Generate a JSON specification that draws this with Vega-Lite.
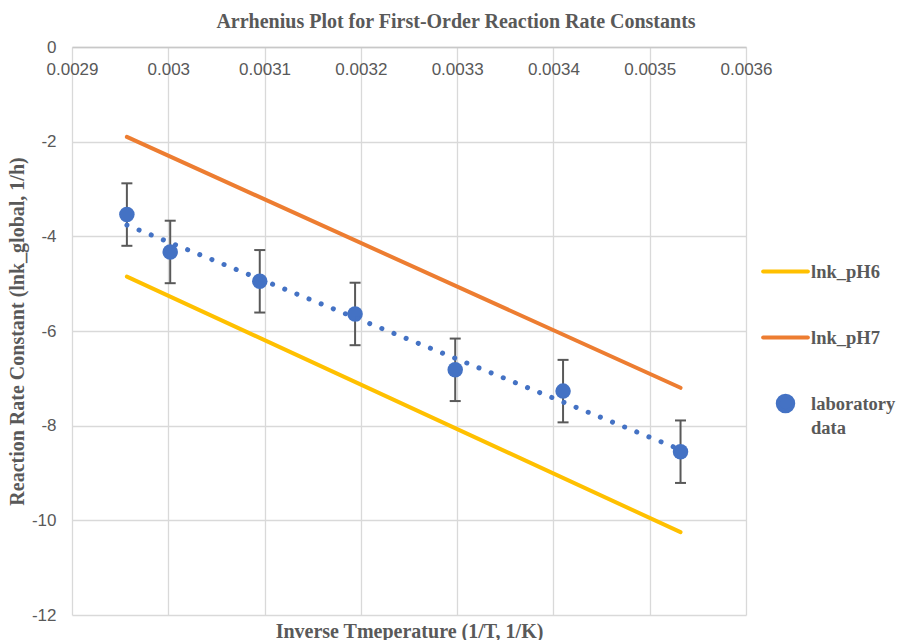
{
  "$schema": "https://vega.github.io/schema/vega-lite/v6.json",
  "width": 674,
  "height": 568,
  "autosize": {"type": "none"},
  "padding": {"left": 72, "top": 47, "right": 158, "bottom": 25},
  "background": "white",
  "title": {
    "text": "Arrhenius Plot for First-Order Reaction Rate Constants",
    "font": "Liberation Serif",
    "fontSize": 20,
    "fontWeight": "bold",
    "color": "#595959",
    "anchor": "middle",
    "dx": 47,
    "offset": 6
  },
  "data": {
    "values": [
      {"series": "lnk_pH6", "x": 0.002957, "y": -4.85},
      {"series": "lnk_pH6", "x": 0.003532, "y": -10.25},
      {"series": "lnk_pH7", "x": 0.002957, "y": -1.9},
      {"series": "lnk_pH7", "x": 0.003532, "y": -7.2},
      {"series": "laboratory data", "x": 0.002957, "y": -3.54, "lo": -4.2, "hi": -2.88},
      {"series": "laboratory data", "x": 0.003002, "y": -4.33, "lo": -4.99, "hi": -3.67},
      {"series": "laboratory data", "x": 0.003095, "y": -4.95, "lo": -5.61, "hi": -4.29},
      {"series": "laboratory data", "x": 0.003194, "y": -5.64, "lo": -6.3, "hi": -4.98},
      {"series": "laboratory data", "x": 0.003298, "y": -6.82, "lo": -7.48, "hi": -6.16},
      {"series": "laboratory data", "x": 0.00341, "y": -7.27, "lo": -7.93, "hi": -6.61},
      {"series": "laboratory data", "x": 0.003532, "y": -8.55, "lo": -9.21, "hi": -7.89}
    ]
  },
  "layer": [
    {
      "transform": [{"filter": "datum.series !== 'laboratory data'"}],
      "mark": {"type": "line", "strokeWidth": 4, "strokeCap": "round"},
      "encoding": {
        "x": {
          "field": "x",
          "type": "quantitative",
          "scale": {"domain": [0.0029, 0.0036], "nice": false, "zero": false},
          "axis": {
            "orient": "top",
            "title": null,
            "values": [0.0029, 0.003, 0.0031, 0.0032, 0.0033, 0.0034, 0.0035, 0.0036],
            "labelExpr": "'' + datum.value",
            "grid": true,
            "domain": true,
            "ticks": false,
            "tickSize": 0,
            "labelBaseline": "top",
            "labelPadding": -14,
            "labelFlush": false,
            "labelOverlap": false
          }
        },
        "y": {
          "field": "y",
          "type": "quantitative",
          "scale": {"domain": [-12, 0], "nice": false, "zero": false},
          "axis": {
            "title": "Reaction Rate Constant (lnk_global, 1/h)",
            "values": [-12, -10, -8, -6, -4, -2, 0],
            "labelExpr": "'' + datum.value",
            "grid": true,
            "domain": false,
            "ticks": false,
            "tickSize": 0,
            "labelPadding": 16,
            "titlePadding": 4,
            "titleFontSize": 20,
            "labelFlush": false,
            "labelOverlap": false
          }
        },
        "color": {
          "field": "series",
          "type": "nominal",
          "scale": {
            "domain": ["lnk_pH6", "lnk_pH7", "laboratory data"],
            "range": ["#FFC000", "#ED7D31", "#4472C4"]
          },
          "legend": {
            "title": null,
            "orient": "none",
            "legendX": 689,
            "legendY": 200,
            "symbolSize": 2000,
            "symbolStrokeWidth": 4,
            "labelFont": "Liberation Serif",
            "labelFontSize": 18.5,
            "labelFontWeight": "bold",
            "labelColor": "#595959",
            "labelOffset": 1,
            "labelLimit": 200,
            "rowPadding": 32,
            "labelExpr": "datum.label == 'laboratory data' ? ['laboratory', 'data'] : datum.label",
            "encode": {
              "symbols": {
                "update": {
                  "shape": {"signal": "datum.value === 'laboratory data' ? 'circle' : 'stroke'"},
                  "size": {"signal": "datum.value === 'laboratory data' ? 240 : 2000"},
                  "fill": {"signal": "datum.value === 'laboratory data' ? '#4472C4' : 'transparent'"},
                  "stroke": {"signal": "datum.value === 'lnk_pH6' ? '#FFC000' : (datum.value === 'lnk_pH7' ? '#ED7D31' : 'transparent')"},
                  "strokeWidth": {"value": 4},
                  "strokeCap": {"value": "round"},
                  "opacity": {"value": 1}
                }
              },
              "labels": {
                "update": {
                  "lineHeight": {"value": 24}
                }
              }
            }
          }
        }
      }
    },
    {
      "transform": [{"filter": "datum.series === 'laboratory data'"}],
      "mark": {"type": "rule", "color": "#595959", "strokeWidth": 2},
      "encoding": {
        "x": {"field": "x", "type": "quantitative", "axis": null},
        "y": {"field": "lo", "type": "quantitative", "title": "Reaction Rate Constant (lnk_global, 1/h)"},
        "y2": {"field": "hi"}
      }
    },
    {
      "transform": [{"filter": "datum.series === 'laboratory data'"}],
      "mark": {"type": "tick", "orient": "horizontal", "size": 11, "thickness": 2, "color": "#595959", "opacity": 1},
      "encoding": {
        "x": {"field": "x", "type": "quantitative", "axis": null},
        "y": {"field": "lo", "type": "quantitative", "title": "Reaction Rate Constant (lnk_global, 1/h)"}
      }
    },
    {
      "transform": [{"filter": "datum.series === 'laboratory data'"}],
      "mark": {"type": "tick", "orient": "horizontal", "size": 11, "thickness": 2, "color": "#595959", "opacity": 1},
      "encoding": {
        "x": {"field": "x", "type": "quantitative", "axis": null},
        "y": {"field": "hi", "type": "quantitative", "title": "Reaction Rate Constant (lnk_global, 1/h)"}
      }
    },
    {
      "transform": [{"filter": "datum.series === 'laboratory data'"}],
      "mark": {"type": "point", "filled": true, "shape": "circle", "size": 240, "opacity": 1},
      "encoding": {
        "x": {
          "field": "x",
          "type": "quantitative",
          "axis": {
            "orient": "bottom",
            "title": "Inverse Tmeperature (1/T, 1/K)",
            "titleFontSize": 20,
            "labels": false,
            "grid": false,
            "domain": false,
            "ticks": false,
            "titlePadding": 6
          }
        },
        "y": {"field": "y", "type": "quantitative", "title": "Reaction Rate Constant (lnk_global, 1/h)"},
        "color": {"field": "series", "type": "nominal"}
      }
    },
    {
      "transform": [
        {"filter": "datum.series === 'laboratory data'"},
        {"regression": "y", "on": "x"}
      ],
      "mark": {"type": "line", "color": "#4472C4", "strokeWidth": 5, "strokeDash": [0.1, 13], "strokeCap": "round"},
      "encoding": {
        "x": {"field": "x", "type": "quantitative", "axis": null},
        "y": {"field": "y", "type": "quantitative", "title": "Reaction Rate Constant (lnk_global, 1/h)"}
      }
    }
  ],
  "config": {
    "view": {"stroke": null},
    "axis": {
      "labelFont": "Liberation Sans",
      "labelFontSize": 17,
      "labelColor": "#595959",
      "titleFont": "Liberation Serif",
      "titleFontSize": 17,
      "titleFontWeight": "bold",
      "titleColor": "#595959",
      "gridColor": "#D9D9D9",
      "gridWidth": 1.3,
      "domainColor": "#C8C8C8",
      "domainWidth": 1.3
    }
  }
}
